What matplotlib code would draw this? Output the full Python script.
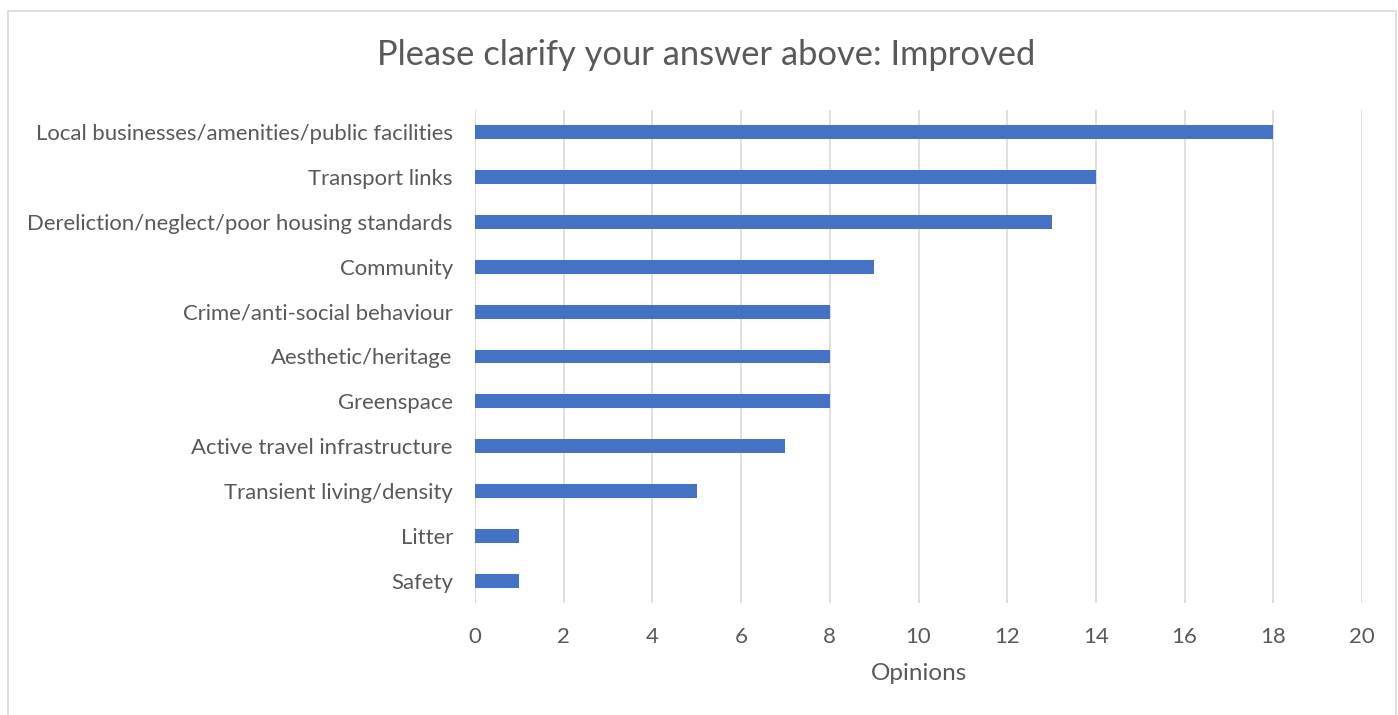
import matplotlib
matplotlib.use("Agg")
import matplotlib.pyplot as plt
from matplotlib.patches import Rectangle

categories = ["Local businesses/amenities/public facilities", "Transport links",
              "Dereliction/neglect/poor housing standards", "Community",
              "Crime/anti-social behaviour", "Aesthetic/heritage", "Greenspace",
              "Active travel infrastructure", "Transient living/density", "Litter", "Safety"]
values = [18, 14, 13, 9, 8, 8, 8, 7, 5, 1, 1]
xticks = [0, 2, 4, 6, 8, 10, 12, 14, 16, 18, 20]

plt.rcParams['font.family'] = ['Lato', 'DejaVu Sans']
txt = '#595959'

fig = plt.figure(figsize=(13.98, 7.15), dpi=100)
fig.patches.append(Rectangle((8/1398, -0.01), (1396-8)/1398, 1 - 11/715 + 0.01,
                             transform=fig.transFigure, fill=False,
                             edgecolor='#d9d9d9', linewidth=1.2))
ax = fig.add_axes([475/1398, 1-603/715, (1362-475)/1398, (603-110)/715])

y = list(range(len(categories)))
ax.barh(y, values, height=0.31, color='#4472C4', zorder=3)
ax.set_ylim(len(categories)-0.5, -0.5)
ax.set_xlim(0, 20)
ax.set_xticks(xticks)
ax.set_yticks(y)
ax.set_yticklabels(categories)
ax.grid(axis='x', color='#d9d9d9', linewidth=1.2, zorder=0)
for s in ax.spines.values():
    s.set_visible(False)
ax.axvline(0, color='#d9d9d9', linewidth=1.2, zorder=1)
ax.tick_params(axis='both', length=0, labelsize=15.9, colors=txt)
ax.tick_params(axis='x', pad=17)
ax.tick_params(axis='y', pad=16)
ax.set_xlabel('Opinions', fontsize=17.5, color=txt, labelpad=12)
fig.text(706/1398, 1-55/715, 'Please clarify your answer above: Improved',
         ha='center', va='center', fontsize=24.8, color=txt)

fig.savefig('out.png', dpi=100)
